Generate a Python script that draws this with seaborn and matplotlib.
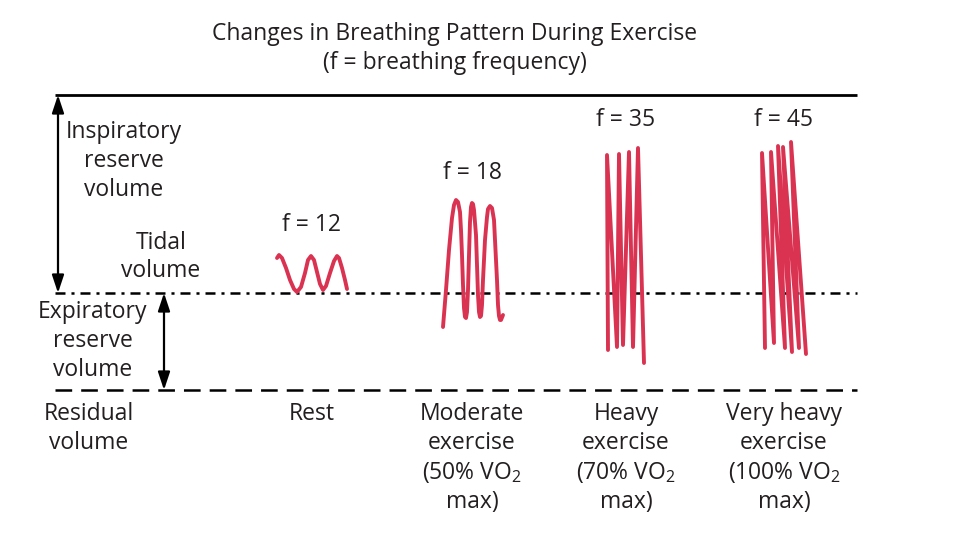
import matplotlib
matplotlib.use('Agg')
import matplotlib.pyplot as plt
import pandas as pd
import seaborn as sns

# lung volume levels (figure pixel rows)
tlc_level = 95
frc_level = 293
rv_level = 390
line_x = [55, 857]

# breathing traces (x, y in pixel units)
rest_x = [277, 279, 282, 286, 290, 294, 297, 301, 305, 308, 311, 314, 317, 320, 323, 326, 330, 334, 337, 339, 342, 345, 347]
rest_y = [258, 255, 258, 268, 280, 289, 292, 287, 273, 260, 256, 260, 272, 284, 290, 286, 273, 261, 256, 258, 268, 280, 289]

moderate_x = [443, 446, 449, 452, 454, 456, 458, 460, 461, 462, 463, 464, 465, 466, 467, 468, 469, 470, 471, 472,
              473, 474, 476, 477, 478, 479, 480, 481, 482, 483, 485, 487, 488, 490, 492, 494, 495, 497, 498, 499,
              500, 501, 503]
moderate_y = [327, 290, 250, 218, 205, 200, 202, 212, 230, 255, 285, 308, 317, 318, 312, 290, 255, 222, 207, 203,
              204, 210, 235, 265, 295, 312, 317, 316, 305, 280, 240, 217, 209, 206, 208, 220, 240, 280, 305, 316,
              320, 320, 315]

heavy_x = [608, 607, 617, 619, 623, 629, 633, 638, 644]
heavy_y = [350, 155, 347, 154, 345, 152, 347, 148, 363]

very_heavy_x = [765, 762, 774, 771, 785, 778, 792, 783, 799, 791, 806]
very_heavy_y = [348, 153, 343, 152, 348, 146, 352, 147, 348, 142, 354]

stage_labels = ['Rest', 'Moderate\nexercise\n(50% VO$_2$\nmax)', 'Heavy\nexercise\n(70% VO$_2$\nmax)',
                'Very heavy\nexercise\n(100% VO$_2$\nmax)']
stage_x = [312, 472, 626, 784]
freq_labels = ['f = 12', 'f = 18', 'f = 35', 'f = 45']
freq_y = [225, 173, 120, 120]

sns.set_theme(style='white')
plt.rcParams['font.family'] = ['Open Sans', 'DejaVu Sans']
plt.rcParams['mathtext.fontset'] = 'custom'
plt.rcParams['mathtext.rm'] = 'Open Sans'
plt.rcParams['mathtext.default'] = 'regular'
plt.rcParams['lines.scale_dashes'] = False

fig = plt.figure(figsize=(9.6, 5.4), dpi=100)
ax = fig.add_axes([0, 0, 1, 1])

# volume boundary lines
ax.plot(line_x, [tlc_level] * 2, color='black', lw=2.0, solid_capstyle='butt')
ax.plot(line_x, [frc_level] * 2, color='black', lw=1.8, dashes=(7.2, 4.3, 2.2, 4.3), dash_capstyle='butt')
ax.plot(line_x, [rv_level] * 2, color='black', lw=1.8, dashes=(12, 6.5), dash_capstyle='butt')

# traces
traces = pd.concat([
    pd.DataFrame({'x': rest_x, 'y': rest_y, 'stage': 'rest'}),
    pd.DataFrame({'x': moderate_x, 'y': moderate_y, 'stage': 'moderate'}),
    pd.DataFrame({'x': heavy_x, 'y': heavy_y, 'stage': 'heavy'}),
    pd.DataFrame({'x': very_heavy_x, 'y': very_heavy_y, 'stage': 'very heavy'}),
], ignore_index=True)
sns.lineplot(data=traces, x='x', y='y', units='stage', estimator=None, sort=False,
             color='#da3352', lw=2.8, ax=ax, legend=False)
for ln in ax.lines[3:]:
    ln.set_solid_joinstyle('round')
    ln.set_solid_capstyle('round')
ax.set_xlim(0, 960)
ax.set_ylim(540, 0)
ax.axis('off')

# arrows
arrow = dict(arrowstyle='<|-|>,head_length=0.9,head_width=0.3', color='black', lw=1.6, shrinkA=0, shrinkB=0)
ax.annotate('', xy=(58, tlc_level), xytext=(58, frc_level), arrowprops=arrow)
ax.annotate('', xy=(164, frc_level), xytext=(164, rv_level), arrowprops=arrow)

fs = 16.5
ls = 1.27
tc = '#231f20'
ax.text(455, 48.5, 'Changes in Breathing Pattern During Exercise\n(f = breathing frequency)',
        ha='center', va='center', fontsize=fs, linespacing=ls, color=tc)
ax.text(124, 161, 'Inspiratory\nreserve\nvolume', ha='center', va='center', fontsize=fs, linespacing=ls, color=tc)
ax.text(161, 257, 'Tidal\nvolume', ha='center', va='center', fontsize=fs, linespacing=ls, color=tc)
ax.text(93, 341, 'Expiratory\nreserve\nvolume', ha='center', va='center', fontsize=fs, linespacing=ls, color=tc)
ax.text(89, 402, 'Residual\nvolume', ha='center', va='top', fontsize=fs, linespacing=ls, color=tc)
for lab, x in zip(stage_labels, stage_x):
    ax.text(x, 402, lab, ha='center', va='top', fontsize=fs, linespacing=ls, color=tc)
for lab, x, y in zip(freq_labels, stage_x, freq_y):
    ax.text(x, y, lab, ha='center', va='center', fontsize=fs, color=tc)

fig.savefig('out.png', dpi=100)
